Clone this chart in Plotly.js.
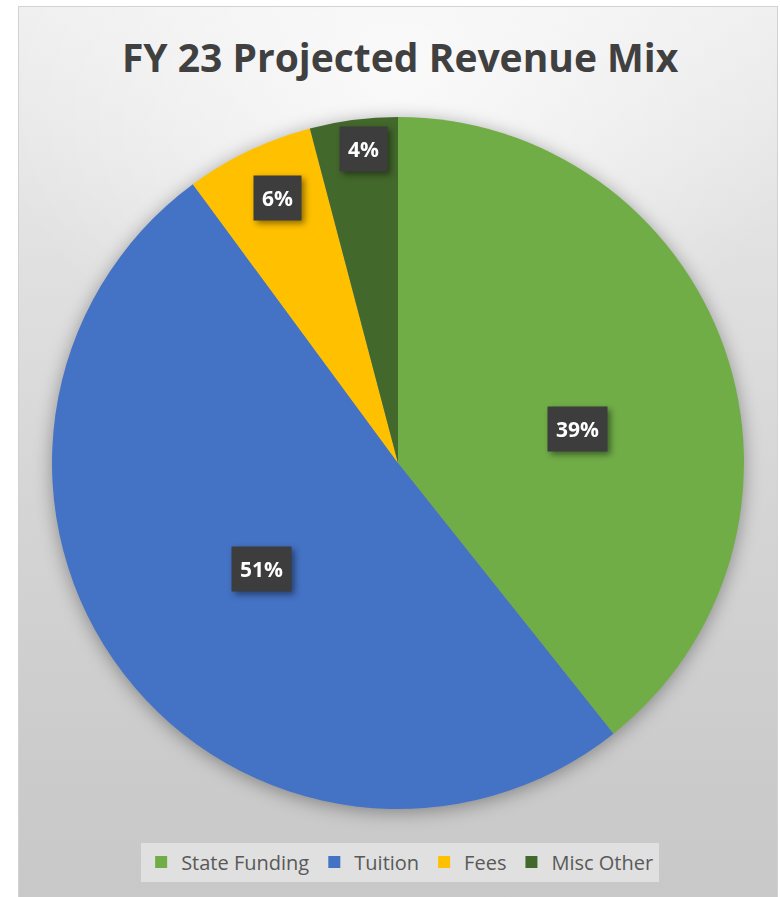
<!DOCTYPE html>
<html>
<head>
<meta charset="utf-8">
<script src="https://cdn.plot.ly/plotly-3.0.1.min.js"></script>
<style>
  html, body { margin: 0; padding: 0; background: #ffffff; width: 780px; height: 897px; overflow: hidden; }
  #card {
    position: absolute; left: 18px; top: 6px; width: 758px; height: 895px;
    border: 1px solid #d2d2d2;
    background:
      radial-gradient(ellipse 55% 35% at 50% 8%, rgba(255,255,255,0.75) 0%, rgba(255,255,255,0) 100%),
      linear-gradient(to bottom, #efefef 0%, #e2e2e2 25%, #d5d5d5 55%, #cbcbcb 85%, #c8c8c8 100%);
  }
  #chart { position: absolute; left: 0; top: 0; width: 780px; height: 897px; }
  .pielayer { filter: drop-shadow(0px 3px 9px rgba(0,0,0,0.35)); }
  .annotation { filter: drop-shadow(3px 3px 3px rgba(0,0,0,0.45)); }
</style>
</head>
<body>
<div id="card"></div>
<div id="chart"></div>
<script>
// ---- data ----
const categories = ["State Funding", "Tuition", "Fees", "Misc Other"];
const revenueShare = [39.3, 50.6, 6.0, 4.1];
const sliceColors = ["#70ad47", "#4472c4", "#ffc000", "#43682b"];

const total = revenueShare.reduce((a, b) => a + b, 0);
const pctText = revenueShare.map(v => Math.round(v / total * 100) + "%");

// label box positions (paper fractions), in category order
const labelPos = [
  [577 / 780, 1 - 429 / 897],
  [261 / 780, 1 - 569 / 897],
  [277 / 780, 1 - 198 / 897],
  [363 / 780, 1 - 149 / 897]
];

const trace = {
  type: "pie",
  labels: categories,
  values: revenueShare,
  sort: false,
  direction: "clockwise",
  rotation: 0,
  textinfo: "none",
  hoverinfo: "none",
  marker: { colors: sliceColors, line: { width: 0 } },
  domain: { x: [52 / 780, 744 / 780], y: [88 / 897, 780 / 897] }
};

const annotations = categories.map((c, i) => ({
  xref: "paper", yref: "paper",
  x: labelPos[i][0], y: labelPos[i][1],
  xanchor: "center", yanchor: "middle",
  text: "<b>" + pctText[i] + "</b>",
  showarrow: false,
  font: { family: "Open Sans", size: 21, color: "#ffffff" },
  bgcolor: "#3d3d3d",
  borderpad: 8
}));

const layout = {
  width: 780, height: 897,
  autosize: false,
  margin: { l: 0, r: 0, t: 0, b: 0 },
  paper_bgcolor: "rgba(0,0,0,0)",
  plot_bgcolor: "rgba(0,0,0,0)",
  title: {
    text: "<b>FY 23 Projected Revenue Mix</b>",
    font: { family: "Open Sans", size: 39, color: "#404040" },
    x: 0.513, xanchor: "center",
    y: 1 - 58 / 897, yanchor: "middle"
  },
  showlegend: true,
  legend: {
    orientation: "h",
    x: 0.513, xanchor: "center",
    y: 1 - 862 / 897, yanchor: "middle",
    bgcolor: "#e0e0e0",
    font: { family: "Open Sans", size: 20, color: "#595959" },
    traceorder: "normal"
  },
  annotations: annotations
};

Plotly.newPlot("chart", [trace], layout, { displayModeBar: false, staticPlot: true });
</script>
</body>
</html>
